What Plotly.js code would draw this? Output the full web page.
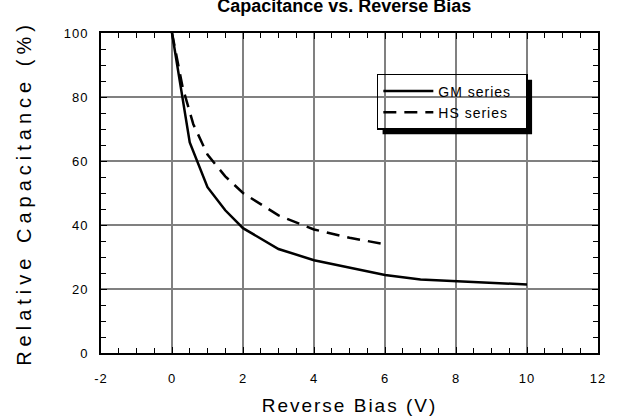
<!DOCTYPE html>
<html>
<head>
<meta charset="utf-8">
<script src="https://cdn.plot.ly/plotly-3.0.1.min.js"></script>
<style>
  html, body { margin: 0; padding: 0; background: #fff; }
  #chart { width: 617px; height: 420px; }
  .xtitle { letter-spacing: 2px; }
  .ytitle { letter-spacing: 5px; }
  .xtick text, .ytick text { letter-spacing: 1px; }
  .legendtext { letter-spacing: 1px; }
</style>
</head>
<body>
<div id="chart"></div>
<script>
// Data
const gmBias = [0, 0.5, 1, 1.5, 2, 3, 4, 5, 6, 7, 10];
const gmCap  = [100, 65.8, 51.8, 44.6, 39, 32.5, 29, 26.7, 24.4, 23, 21.4];
const hsBias = [0, 0.3, 0.6, 1, 1.5, 2, 3, 4, 5, 6];
const hsCap  = [100, 83, 71.5, 62, 55.2, 50, 43, 38.6, 36, 34];
const seriesNames = ["GM series", "HS series"];
const xTickVals = [-2, 0, 2, 4, 6, 8, 10, 12];
const xTickText = ["-2", "0", "2", "4", "6", "8", "10", "12"];
const titleText = "Capacitance vs. Reverse Bias";
const xTitleText = "Reverse Bias (V)";
const yTitleText = "Relative Capacitance (%)";

const font = "Liberation Sans, Arial, sans-serif";
const pad = "\u00A0\u00A0";

const traces = [
  { x: gmBias, y: gmCap, name: seriesNames[0] + pad, mode: "lines",
    line: { color: "#000", width: 2.5 } },
  { x: hsBias, y: hsCap, name: seriesNames[1] + pad, mode: "lines",
    line: { color: "#000", width: 2.5, dash: "13px,8px" } }
];

const axisCommon = {
  showline: true, linecolor: "#000", linewidth: 2, mirror: "allticks",
  ticks: "inside", ticklen: 6, tickwidth: 1, tickcolor: "#000",
  showgrid: true, gridcolor: "#808080", gridwidth: 2,
  zeroline: false,
  tickfont: { family: font, size: 13, color: "#000" }
};

const layout = {
  width: 617, height: 420,
  margin: { l: 101, r: 19, t: 33, b: 67 },
  paper_bgcolor: "#fff", plot_bgcolor: "#fff",
  showlegend: true,
  title: { text: "<b>" + titleText + "</b>", font: { family: font, size: 18, color: "#000" },
           x: 0.558, xanchor: "center", y: 0.986, yanchor: "middle", yref: "container", pad: {t:0,b:0} },
  xaxis: Object.assign({}, axisCommon, {
    range: [-2, 12], tickmode: "array", tickvals: xTickVals, ticktext: xTickText,
    minor: { dtick: 0.5, tick0: 0, ticks: "inside", ticklen: 5, tickcolor: "#000", showgrid: false },
    ticklabelstandoff: 12,
    title: { text: xTitleText, font: { family: font, size: 19, color: "#000" }, standoff: 14 }
  }),
  yaxis: Object.assign({}, axisCommon, {
    range: [0, 100], dtick: 20, tick0: 0,
    minor: { dtick: 5, ticks: "inside", ticklen: 5, tickcolor: "#000", showgrid: false },
    ticklabelstandoff: 8,
    title: { text: "\u00A0\u00A0" + yTitleText, font: { family: font, size: 20, color: "#000" }, standoff: 27 }
  }),
  legend: {
    x: 0.555, y: 0.872, xanchor: "left", yanchor: "top",
    bgcolor: "rgba(0,0,0,0)", bordercolor: "#000", borderwidth: 1.5,
    font: { family: font, size: 14, color: "#000" },
    itemwidth: 50, tracegroupgap: 0
  }
};

Plotly.newPlot("chart", traces, layout, { displayModeBar: false, staticPlot: true }).then(function (gd) {
  // Drop shadow behind the legend box, placed from the rendered legend's own box
  const bg = gd.querySelector(".legend rect.bg");
  if (!bg) return;
  const r = bg.getBoundingClientRect();
  const g = gd.getBoundingClientRect();
  const s = gd._fullLayout._size;
  const off = 5;
  const px = v => (v - g.left - s.l) / s.w;
  const py = v => (s.t + s.h - (v - g.top)) / s.h;
  const L = r.left, R = r.right, T = r.top, B = r.bottom;
  const path = "M " + px(R) + "," + py(T + off) +
               " L " + px(R + off) + "," + py(T + off) +
               " L " + px(R + off) + "," + py(B + off) +
               " L " + px(L + off) + "," + py(B + off) +
               " L " + px(L + off) + "," + py(B) +
               " L " + px(R) + "," + py(B) + " Z";
  return Plotly.relayout(gd, { shapes: [{ type: "path", xref: "paper", yref: "paper", path: path,
    fillcolor: "#000", line: { width: 0 }, layer: "above" }] });
});
</script>
</body>
</html>
